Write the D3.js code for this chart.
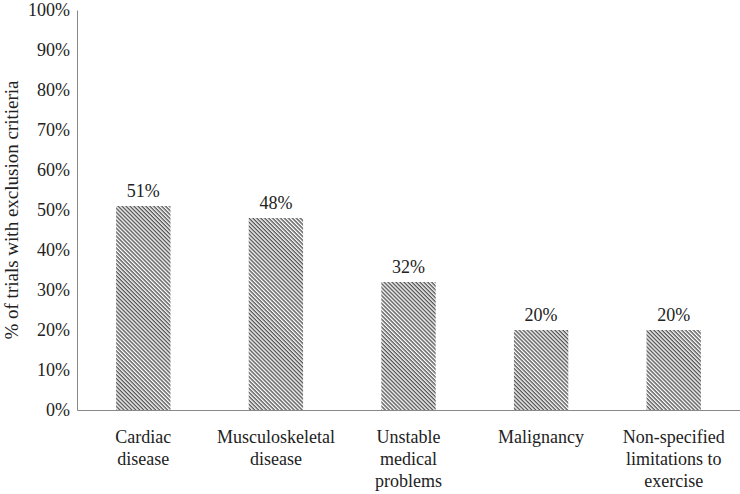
<!DOCTYPE html>
<html><head><meta charset="utf-8">
<script src="https://cdn.jsdelivr.net/npm/d3@7"></script>
<style>body{margin:0;background:#fff}svg{display:block}</style>
</head><body><svg id="c" width="740" height="494" font-family="Liberation Serif"></svg>
<script>
const categories = [["Cardiac","disease"],["Musculoskeletal","disease"],["Unstable","medical","problems"],["Malignancy"],["Non-specified","limitations to","exercise"]];
const values = [51, 48, 32, 20, 20];
const yTicks = [0,10,20,30,40,50,60,70,80,90,100];

const FONT = "Liberation Serif";
const svg = d3.select("#c");
const m = {l:77, r:0, t:10, b:84};
const W = 740, H = 494;
const x = d3.scaleBand().domain(d3.range(values.length)).range([m.l, W-m.r]).paddingInner(0.59).paddingOuter(0.295);
const y = d3.scaleLinear().domain([0,100]).range([H-m.b, m.t]);

const defs = svg.append("defs");
const p = defs.append("pattern").attr("id","hatch").attr("patternUnits","userSpaceOnUse").attr("width",2.8).attr("height",2.8).attr("patternTransform","rotate(45)");
p.append("rect").attr("width",2.8).attr("height",2.8).attr("fill","#fff");
p.append("line").attr("x1",0).attr("y1",0.7).attr("x2",2.8).attr("y2",0.7).attr("stroke","#555").attr("stroke-width",1.4);

svg.append("g").selectAll("rect").data(values).join("rect")
  .attr("x",(d,i)=>x(i)).attr("width",x.bandwidth())
  .attr("y",d=>y(d)).attr("height",d=>y(0)-y(d)).attr("fill","url(#hatch)");

svg.append("g").selectAll("text").data(values).join("text")
  .attr("x",(d,i)=>x(i)+x.bandwidth()/2).attr("y",d=>y(d)-9)
  .attr("text-anchor","middle").attr("font-size",18).text(d=>d+"%");

const ya = svg.append("g").attr("transform",`translate(${m.l},0)`)
  .call(d3.axisLeft(y).tickValues(yTicks).tickSize(0).tickPadding(7).tickFormat(d=>d+"%"));
ya.select(".domain").attr("stroke","#888");
ya.selectAll("text").attr("font-size",18);

const xa = svg.append("g").attr("transform",`translate(0,${y(0)})`)
  .call(d3.axisBottom(x).tickSize(0).tickFormat(""));
xa.select(".domain").attr("stroke","#888");

const cl = svg.append("g").selectAll("text").data(categories).join("text")
  .attr("text-anchor","middle").attr("font-size",18)
  .attr("transform",(d,i)=>`translate(${x(i)+x.bandwidth()/2},${y(0)+33})`);
cl.selectAll("tspan").data(d=>d).join("tspan").attr("x",0).attr("dy",(d,j)=>j?22:0).text(d=>d);

svg.append("text").attr("transform",`translate(18,${(y(0)+y(100))/2}) rotate(-90)`)
  .attr("text-anchor","middle").attr("font-size",19).text("% of trials with exclusion critieria");

svg.selectAll("g").attr("font-family", FONT);
svg.selectAll("text, tspan").attr("font-family", FONT).attr("fill","#222")
  .each(function(){ this.style.setProperty("font-family", FONT, "important"); });
</script></body></html>
